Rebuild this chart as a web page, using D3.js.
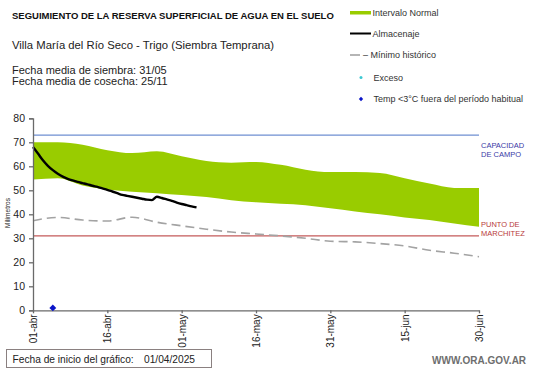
<!DOCTYPE html>
<html>
<head>
<meta charset="utf-8">
<script src="https://cdn.jsdelivr.net/npm/d3@7"></script>
<style>
  body { margin: 0; background: #fff; }
  text { font-family: "Liberation Sans", Arial, sans-serif; }
</style>
</head>
<body>
<script>
// --- data ---
const startDate = new Date(2025, 3, 1);
const tickDays = [0, 15, 30, 45, 60, 75, 90];
const tickLabels = ['01-abr', '16-abr', '01-may', '16-may', '31-may', '15-jun', '30-jun'];
const yTicks = [0, 10, 20, 30, 40, 50, 60, 70, 80];

// intervalo normal (every 5 days)
const bandDays = [0, 5, 10, 15, 20, 25, 30, 35, 40, 45, 50, 55, 60, 65, 70, 75, 80, 85, 90];
const bandUpper = [70, 70, 69, 66.7, 65.5, 66.3, 64.2, 62.2, 61.5, 61.8, 60.6, 58.6, 57.6, 57.6, 57.2, 55, 52.8, 51, 51];
const bandLower = [54.5, 55, 52, 50.3, 49.4, 48.8, 48, 47.2, 45.9, 45, 44.4, 43.8, 42.5, 41.2, 40, 38.7, 37.6, 36.2, 34.8];
// minimo historico
const minHist = [37.3, 38.7, 37.6, 37.2, 38.8, 36.7, 35.2, 33.8, 32.6, 31.8, 31, 30, 28.8, 28.5, 27.8, 26.8, 25, 23.8, 22.3];
// almacenaje, daily from 01-abr
const storage = [68.0, 65.3, 62.5, 60.2, 58.4, 56.9, 55.7, 54.8, 54.1, 53.5, 53.0, 52.5, 51.9, 51.4, 50.8,
  50.2, 49.5, 48.8, 48.1, 47.7, 47.3, 46.9, 46.5, 46.1, 45.9, 47.3, 46.8, 46.2, 45.6, 44.9, 44.3, 43.8, 43.3, 42.9];
// temp < 3C
const coldDays = [4];
const coldValues = [1];

const capacidadCampo = 73;
const puntoMarchitez = 31;

const day = d => d3.timeDay.offset(startDate, d);

const W = 541, H = 368;
const svg = d3.select('body').append('svg').attr('width', W).attr('height', H);

const x = d3.scaleTime().domain([day(0), day(90)]).range([33, 479]);
const y = d3.scaleLinear().domain([0, 80]).range([310.3, 118.3]);

// band
const area = d3.area()
    .x((d, i) => x(day(bandDays[i])))
    .y0((d, i) => y(bandLower[i]))
    .y1((d, i) => y(bandUpper[i]))
    .curve(d3.curveMonotoneX);
svg.append('path').attr('d', area(bandDays)).attr('fill', '#99cc00');

// reference lines
svg.append('line')
    .attr('x1', x(day(0))).attr('x2', x(day(90)))
    .attr('y1', y(capacidadCampo)).attr('y2', y(capacidadCampo))
    .attr('stroke', '#6f8fd2').attr('stroke-width', 1.2);
svg.append('line')
    .attr('x1', x(day(0))).attr('x2', x(day(90)))
    .attr('y1', y(puntoMarchitez)).attr('y2', y(puntoMarchitez))
    .attr('stroke', '#c45a5a').attr('stroke-width', 1.2);

// minimo historico
const minLine = d3.line()
    .x((d, i) => x(day(bandDays[i])))
    .y(d => y(d))
    .curve(d3.curveMonotoneX);
svg.append('path').attr('d', minLine(minHist))
    .attr('fill', 'none').attr('stroke', '#a3a3a3').attr('stroke-width', 1.6)
    .attr('stroke-dasharray', '9,5');

// almacenaje
const stLine = d3.line()
    .x((d, i) => x(day(i)))
    .y(d => y(d))
    .curve(d3.curveMonotoneX);
svg.append('path').attr('d', stLine(storage))
    .attr('fill', 'none').attr('stroke', '#000').attr('stroke-width', 2.4)
    .attr('stroke-linejoin', 'round');

// axes
const yAxis = d3.axisLeft(y).tickValues(yTicks).tickSize(4).tickPadding(4);
const gy = svg.append('g').attr('transform', `translate(${x(day(0))},0)`).call(yAxis);
gy.selectAll('text').attr('font-size', 10.5).attr('fill', '#222').attr('font-family', 'Liberation Sans, Arial');
gy.selectAll('line, path').attr('stroke', '#6a6a6a').attr('stroke-width', 1.3);

const xAxis = d3.axisBottom(x).tickValues(tickDays.map(day))
    .tickFormat((d, i) => tickLabels[i]).tickSize(3).tickSizeOuter(0);
const gx = svg.append('g').attr('transform', `translate(0,${y(0)})`).call(xAxis);
gx.selectAll('line, path').attr('stroke', '#6a6a6a').attr('stroke-width', 1.3);
gx.selectAll('text')
    .attr('font-size', 10).attr('fill', '#222').attr('font-family', 'Liberation Sans, Arial')
    .attr('transform', 'rotate(-90)')
    .attr('text-anchor', 'end')
    .attr('x', -4).attr('y', 0).attr('dy', '0.35em');

// cold marker
svg.selectAll('.cold').data(coldDays).join('path')
    .attr('transform', (d, i) => `translate(${x(day(d))},${y(coldValues[i])})`)
    .attr('d', d3.symbol(d3.symbolDiamond2, 30))
    .attr('fill', '#0a14c8');

// y label
svg.append('text').attr('transform', 'translate(10,213) rotate(-90)')
    .attr('text-anchor', 'middle').attr('font-size', 6.5).attr('fill', '#222')
    .text('Milímetros');

// reference labels
const refLabel = (lines, yy, color) => {
    const t = svg.append('text').attr('x', 481).attr('y', yy).attr('font-size', 7.5).attr('fill', color);
    lines.forEach((s, i) => t.append('tspan').attr('x', 481).attr('dy', i ? 9 : 0).text(s));
};
refLabel(['CAPACIDAD', 'DE  CAMPO'], 147.5, '#3a3aa6');
refLabel(['PUNTO  DE', 'MARCHITEZ'], 226.5, '#b83a3a');

// titles
svg.append('text').attr('x', 12).attr('y', 18.5).attr('font-size', 9.5).attr('font-weight', 'bold')
    .attr('fill', '#111').text('SEGUIMIENTO DE LA RESERVA SUPERFICIAL DE AGUA EN EL SUELO');
svg.append('text').attr('x', 12).attr('y', 49).attr('font-size', 11.3).attr('fill', '#222')
    .text('Villa María  del Río Seco - Trigo (Siembra Temprana)');
svg.append('text').attr('x', 12).attr('y', 73.5).attr('font-size', 11).attr('fill', '#222')
    .text('Fecha media de siembra: 31/05');
svg.append('text').attr('x', 12).attr('y', 85).attr('font-size', 11).attr('fill', '#222')
    .text('Fecha media de cosecha: 25/11');

// legend
const lg = svg.append('g').attr('font-size', 9).attr('fill', '#333');
lg.append('rect').attr('x', 350).attr('y', 11).attr('width', 21).attr('height', 3.5).attr('fill', '#99cc00');
lg.append('text').attr('x', 372.5).attr('y', 12.5).attr('dy', '0.35em').text('Intervalo Normal');
lg.append('line').attr('x1', 350).attr('x2', 371).attr('y1', 33.5).attr('y2', 33.5)
    .attr('stroke', '#000').attr('stroke-width', 2);
lg.append('text').attr('x', 372.5).attr('y', 33.5).attr('dy', '0.35em').text('Almacenaje');
lg.append('line').attr('x1', 350).attr('x2', 360).attr('y1', 55).attr('y2', 55)
    .attr('stroke', '#a3a3a3').attr('stroke-width', 1.6);
lg.append('text').attr('x', 363).attr('y', 55).attr('dy', '0.35em').text('– Mínimo histórico');
lg.append('circle').attr('cx', 361).attr('cy', 77.5).attr('r', 1.5).attr('fill', '#3cc8d2');
lg.append('text').attr('x', 373.5).attr('y', 77.5).attr('dy', '0.35em').text('Exceso');
lg.append('path').attr('transform', 'translate(361,99)')
    .attr('d', d3.symbol(d3.symbolDiamond2, 12)).attr('fill', '#0a14c8');
lg.append('text').attr('x', 373.5).attr('y', 99).attr('dy', '0.35em').text('Temp <3°C fuera del período habitual');

// footer box
svg.append('rect').attr('x', 6.5).attr('y', 349.5).attr('width', 205).attr('height', 18)
    .attr('fill', '#fff').attr('stroke', '#8a8080').attr('stroke-width', 1);
svg.append('text').attr('x', 12.5).attr('y', 359).attr('dy', '0.35em')
    .attr('font-family', 'Lato, sans-serif').attr('font-size', 10.2).attr('fill', '#222')
    .text('Fecha de inicio del gráfico:');
svg.append('text').attr('x', 144).attr('y', 359).attr('dy', '0.35em')
    .attr('font-family', 'Lato, sans-serif').attr('font-size', 10.2).attr('fill', '#222')
    .text('01/04/2025');

svg.append('text').attr('x', 432).attr('y', 360).attr('dy', '0.35em')
    .attr('font-size', 10).attr('font-weight', 'bold').attr('fill', '#6e6e6e')
    .text('WWW.ORA.GOV.AR');
</script>
</body>
</html>
